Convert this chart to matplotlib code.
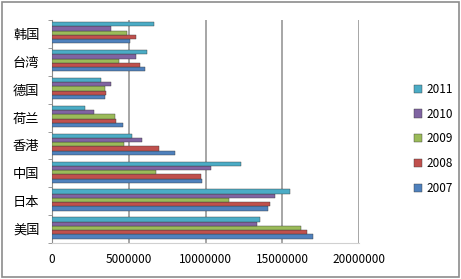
import matplotlib.pyplot as plt
import numpy as np

plt.rcParams['font.family'] = ['Noto Sans CJK SC', 'DejaVu Sans']

# categories from bottom to top
countries = ['美国', '日本', '中国', '香港', '荷兰', '德国', '台湾', '韩国']
years = ['2007', '2008', '2009', '2010', '2011']
colors = ['#4F81BD', '#C0504D', '#9BBB59', '#8064A2', '#4BACC6']

# values (units as in the original axis)
v2007 = [17000000, 14100000, 9750000, 8040000, 4650000, 3430000, 6060000, 5080000]
v2008 = [16600000, 14230000, 9690000, 6950000, 4170000, 3540000, 5730000, 5500000]
v2009 = [16200000, 11500000, 6760000, 4690000, 4100000, 3480000, 4370000, 4870000]
v2010 = [13380000, 14500000, 10340000, 5840000, 2720000, 3820000, 5450000, 3870000]
v2011 = [13580000, 15500000, 12290000, 5240000, 2130000, 3190000, 6210000, 6650000]
series = [v2007, v2008, v2009, v2010, v2011]

fig = plt.figure(figsize=(4.61, 2.79), dpi=100)
ax = fig.add_axes([52 / 461, 1 - 243 / 279, 307 / 461, 223 / 279])

# chart border
fig.patches.append(plt.Rectangle((0.004, 0.006), 0.992, 0.988, transform=fig.transFigure,
                                 fill=False, edgecolor='#8C8C8C', linewidth=1.2))

y = np.arange(len(countries))
h = 0.152
handles = []
for j in range(len(series)):
    b = ax.barh(y + (j - 2) * h + 0.04, series[j], height=h, color=colors[j],
                edgecolor='#3a3a3a', linewidth=0.3, label=years[j], zorder=3)
    handles.append(b)

ax.set_xlim(0, 20000000)
ax.set_ylim(-0.5, 7.5)
ax.set_xticks([0, 5000000, 10000000, 15000000, 20000000])
ax.set_xticklabels(['0', '5000000', '10000000', '15000000', '20000000'], fontsize=8.5)
ax.set_yticks(y)
ax.set_yticklabels(countries, fontsize=9.5)
ax.set_yticks(np.arange(-0.5, 8, 1), minor=True)
ax.tick_params(axis='y', which='major', length=0, pad=9)
ax.tick_params(axis='y', which='minor', length=3, color='#8C8C8C')
ax.tick_params(axis='x', length=0, pad=7)
ax.grid(axis='x', color='#A6A6A6', linewidth=1.4, zorder=0)
for s in ['top', 'right']:
    ax.spines[s].set_visible(False)
ax.spines['left'].set_color('#8C8C8C')
ax.spines['bottom'].set_color('#D0D0D0')

fig.legend(handles[::-1], years[::-1], loc='center left', bbox_to_anchor=(403 / 461, 1 - 139 / 279),
           frameon=False, fontsize=8.5, handlelength=0.7, handleheight=0.7, handletextpad=0.4,
           labelspacing=1.0)

fig.savefig('out.png', dpi=100)
